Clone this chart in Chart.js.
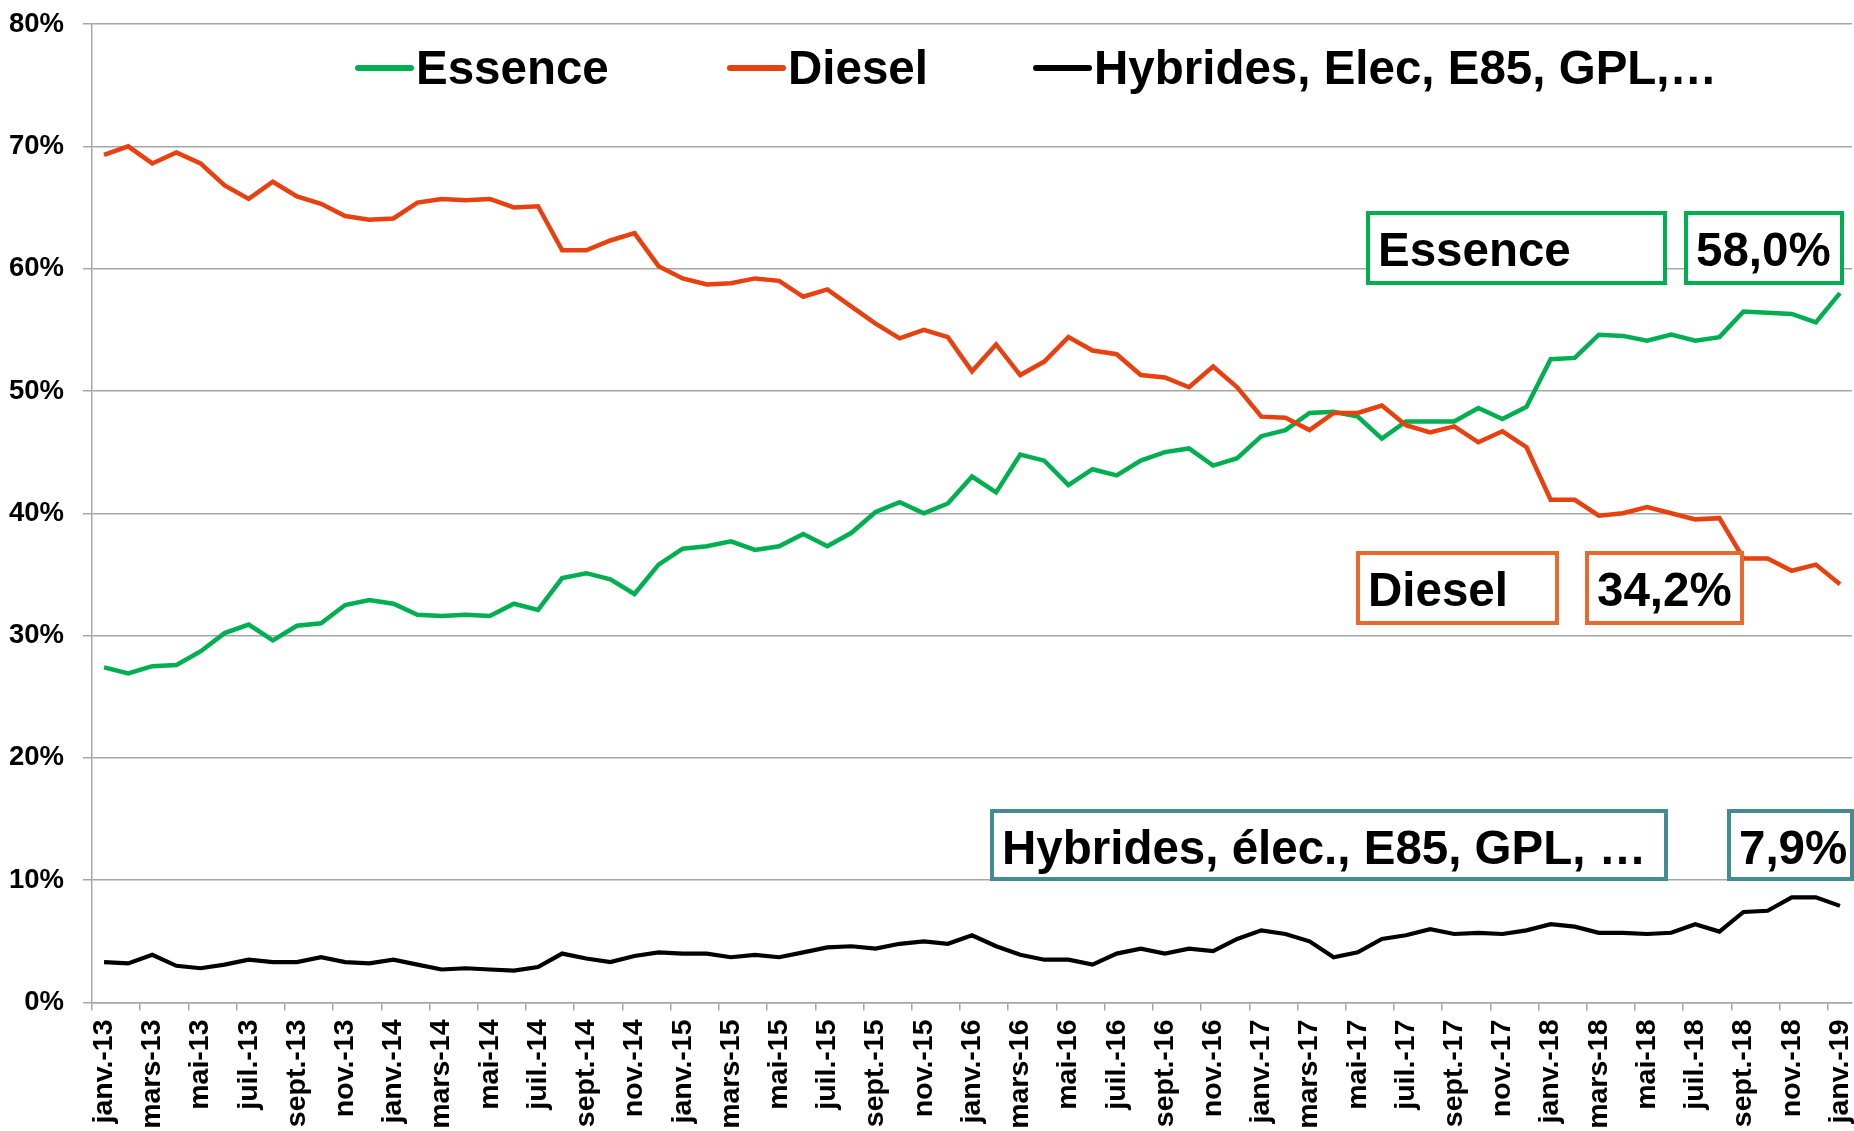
<!DOCTYPE html>
<html>
<head>
<meta charset="utf-8">
<script src="https://cdn.jsdelivr.net/npm/chart.js@4/dist/chart.umd.min.js"></script>
<style>
html,body{margin:0;padding:0;background:#fff;overflow:hidden}
#wrap{width:1854px;height:1131px;position:relative}
</style>
</head>
<body>
<div id="wrap"><canvas id="c" width="1854" height="1131"></canvas></div>
<script>
// ---------- DATA ----------
const months = [
 'janv.-13','févr.-13','mars-13','avr.-13','mai-13','juin-13','juil.-13','août-13','sept.-13','oct.-13','nov.-13','déc.-13',
 'janv.-14','févr.-14','mars-14','avr.-14','mai-14','juin-14','juil.-14','août-14','sept.-14','oct.-14','nov.-14','déc.-14',
 'janv.-15','févr.-15','mars-15','avr.-15','mai-15','juin-15','juil.-15','août-15','sept.-15','oct.-15','nov.-15','déc.-15',
 'janv.-16','févr.-16','mars-16','avr.-16','mai-16','juin-16','juil.-16','août-16','sept.-16','oct.-16','nov.-16','déc.-16',
 'janv.-17','févr.-17','mars-17','avr.-17','mai-17','juin-17','juil.-17','août-17','sept.-17','oct.-17','nov.-17','déc.-17',
 'janv.-18','févr.-18','mars-18','avr.-18','mai-18','juin-18','juil.-18','août-18','sept.-18','oct.-18','nov.-18','déc.-18',
 'janv.-19'
];
const essence = [
 27.4,26.9,27.5,27.6,28.7,30.2,30.9,29.6,30.8,31.0,32.5,32.9,
 32.6,31.7,31.6,31.7,31.6,32.6,32.1,34.7,35.1,34.6,33.4,35.8,
 37.1,37.3,37.7,37.0,37.3,38.3,37.3,38.4,40.1,40.9,40.0,40.8,
 43.0,41.7,44.8,44.3,42.3,43.6,43.1,44.3,45.0,45.3,43.9,44.5,
 46.3,46.8,48.2,48.3,47.9,46.1,47.5,47.5,47.5,48.6,47.7,48.7,
 52.6,52.7,54.6,54.5,54.1,54.6,54.1,54.4,56.5,56.4,56.3,55.6,
 58.0
];
const diesel = [
 69.3,70.0,68.6,69.5,68.6,66.8,65.7,67.1,65.9,65.3,64.3,64.0,
 64.1,65.4,65.7,65.6,65.7,65.0,65.1,61.5,61.5,62.3,62.9,60.2,
 59.2,58.7,58.8,59.2,59.0,57.7,58.3,56.9,55.5,54.3,55.0,54.4,
 51.6,53.8,51.3,52.4,54.4,53.3,53.0,51.3,51.1,50.3,52.0,50.3,
 47.9,47.8,46.8,48.2,48.2,48.8,47.2,46.6,47.1,45.8,46.7,45.4,
 41.1,41.1,39.8,40.0,40.5,40.0,39.5,39.6,36.3,36.3,35.3,35.8,
 34.2
];
const hybrides = [
 3.3,3.2,3.9,3.0,2.8,3.1,3.5,3.3,3.3,3.7,3.3,3.2,
 3.5,3.1,2.7,2.8,2.7,2.6,2.9,4.0,3.6,3.3,3.8,4.1,
 4.0,4.0,3.7,3.9,3.7,4.1,4.5,4.6,4.4,4.8,5.0,4.8,
 5.5,4.6,3.9,3.5,3.5,3.1,4.0,4.4,4.0,4.4,4.2,5.2,
 5.9,5.6,5.0,3.7,4.1,5.2,5.5,6.0,5.6,5.7,5.6,5.9,
 6.4,6.2,5.7,5.7,5.6,5.7,6.4,5.8,7.4,7.5,8.6,8.6,
 7.9
];
const seriesNames = ['Essence','Diesel','Hybrides, Elec, E85, GPL,…'];
const calloutNames = ['Essence','Diesel','Hybrides, élec., E85, GPL, …'];
const yMin = 0, yMax = 80, yStep = 10;

// ---------- STYLE ----------
const FONT = "'Liberation Sans', Arial, Helvetica, sans-serif";
const GRID = '#A6A6A6';
const lineColors = ['#00B050', '#E8400E', '#000000'];
const boxColors = ['#00B050', '#EA6A2E', '#438D92'];

// legend layout (pixel positions of each entry's line start)
const legendPos = [{x:358, y:68}, {x:730, y:68}, {x:1036, y:68}];

// callout boxes [left, top, right, bottom]
const callouts = [
  {ds:0, lb:[1368,213,1665,283], vb:[1686,213,1842,283]},
  {ds:1, lb:[1358,553,1557,623], vb:[1587,553,1742,623]},
  {ds:2, lb:[992,811,1666,879],  vb:[1729,811,1852,879]}
];

const legendPlugin = {
  id: 'customLegend',
  afterDatasetsDraw(chart) {
    const ctx = chart.ctx;
    ctx.save();
    chart.data.datasets.forEach((ds, i) => {
      const p = legendPos[i];
      ctx.strokeStyle = ds.borderColor;
      ctx.lineWidth = 6;
      ctx.lineCap = 'round';
      ctx.beginPath();
      ctx.moveTo(p.x, p.y);
      ctx.lineTo(p.x + 53, p.y);
      ctx.stroke();
      ctx.fillStyle = '#000';
      ctx.font = 'bold 47.5px ' + FONT;
      ctx.textBaseline = 'alphabetic';
      ctx.textAlign = 'left';
      ctx.fillText(ds.label, p.x + 58, p.y + 16);
    });
    ctx.restore();
  }
};

const calloutPlugin = {
  id: 'callouts',
  afterDatasetsDraw(chart) {
    const ctx = chart.ctx;
    ctx.save();
    callouts.forEach(c => {
      const data = chart.data.datasets[c.ds].data;
      const last = data[data.length - 1];
      const valText = last.toFixed(1).replace('.', ',') + '%';
      const draw = (b, text) => {
        ctx.fillStyle = '#fff';
        ctx.fillRect(b[0], b[1], b[2]-b[0], b[3]-b[1]);
        ctx.strokeStyle = boxColors[c.ds];
        ctx.lineWidth = 4;
        ctx.strokeRect(b[0], b[1], b[2]-b[0], b[3]-b[1]);
        ctx.fillStyle = '#000';
        ctx.font = 'bold 47.5px ' + FONT;
        ctx.textAlign = 'left';
        ctx.textBaseline = 'alphabetic';
        ctx.fillText(text, b[0] + 10, b[1] + 53);
      };
      draw(c.lb, calloutNames[c.ds]);
      draw(c.vb, valText);
    });
    ctx.restore();
  }
};

new Chart(document.getElementById('c'), {
  type: 'line',
  data: {
    labels: months,
    datasets: [
      {label: seriesNames[0], data: essence, borderColor: lineColors[0], backgroundColor: lineColors[0], borderWidth: 4.5, pointRadius: 0, tension: 0, order: 2},
      {label: seriesNames[1], data: diesel, borderColor: lineColors[1], backgroundColor: lineColors[1], borderWidth: 4.5, pointRadius: 0, tension: 0, order: 1},
      {label: seriesNames[2], data: hybrides, borderColor: lineColors[2], backgroundColor: lineColors[2], borderWidth: 4.2, pointRadius: 0, tension: 0, order: 0}
    ]
  },
  options: {
    responsive: false,
    animation: false,
    events: [],
    layout: {autoPadding: false, padding: {top: 24, right: 2, left: 0, bottom: 0}},
    plugins: {legend: {display: false}, tooltip: {enabled: false}, title: {display: false}},
    scales: {
      x: {
        type: 'category',
        offset: true,
        grid: {
          offset: true,
          drawOnChartArea: false,
          drawTicks: true,
          tickLength: 8,
          lineWidth: 1.5,
          color: ctx => (ctx.index % 2 === 0 ? GRID : 'rgba(0,0,0,0)')
        },
        border: {display: true, color: GRID, width: 1.5},
        ticks: {
          autoSkip: false,
          minRotation: 90,
          maxRotation: 90,
          padding: 9,
          color: '#000',
          font: {family: FONT, size: 28.5, weight: 'bold'},
          callback: function(v, i) { return i % 2 === 0 ? this.getLabelForValue(v) : ''; }
        },
        afterFit(scale) { scale.height = 128.5; scale.paddingLeft = 0; scale.paddingRight = 0; }
      },
      y: {
        min: yMin, max: yMax,
        grid: {color: GRID, lineWidth: 1.5, tickLength: 9, drawTicks: true},
        border: {display: true, color: GRID, width: 1.5},
        ticks: {
          stepSize: yStep,
          padding: 19,
          color: '#000',
          font: {family: FONT, size: 27.5, weight: 'bold'},
          callback: v => v + '%'
        },
        afterFit(scale) { scale.width = 92; scale.paddingTop = 0; scale.paddingBottom = 0; }
      }
    }
  },
  plugins: [legendPlugin, calloutPlugin]
});
</script>
</body>
</html>
